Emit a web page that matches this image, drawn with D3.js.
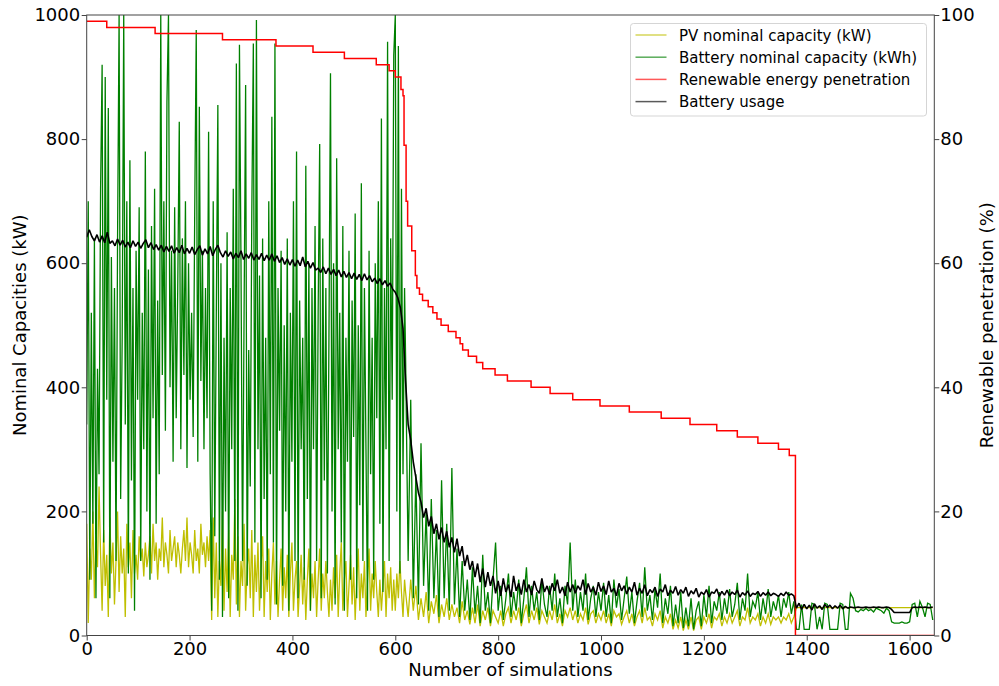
<!doctype html>
<html lang="en">
<head>
  <meta charset="utf-8">
  <script src="https://d3js.org/d3.v7.min.js"></script>
  <style>
    body { margin: 0; background: #fff; }
    svg text { font-family: "DejaVu Sans", sans-serif; fill: #000; }
  </style>
</head>
<body>
  <svg id="chart" width="999" height="686"></svg>
  <script>
    // capacities are read every 3 simulations up to 618, then every 5 from 620
    const earlyStep = 3;
    const lateStart = 620;
    const lateStep = 5;
    // battery usage is read every 5 simulations
    const useStep = 5;
    const simMax = 1648;

    const xTicks = [0, 200, 400, 600, 800, 1000, 1200, 1400, 1600];
    const leftTicks = [0, 200, 400, 600, 800, 1000];
    const rightTicks = [0, 20, 40, 60, 80, 100];

    // PV nominal capacity (kW), sims 0..618
    const pvCapEarly = [
      180, 20, 140, 90, 200, 60, 150, 110, 240, 130,
      40, 170, 80, 130, 30, 190, 100, 150, 50, 120,
      200, 70, 160, 100, 140, 30, 180, 110, 150, 60,
      170, 100, 130, 90, 160, 120, 140, 95, 150, 110,
      130, 160, 100, 180, 120, 150, 90, 140, 120, 190,
      110, 150, 130, 100, 170, 120, 140, 160, 110, 150,
      130, 100, 140, 170, 120, 190, 110, 150, 130, 100,
      170, 120, 140, 100, 180, 130, 150, 110, 160, 120,
      170, 25, 190, 60, 150, 30, 120, 80, 200, 40,
      140, 70, 170, 30, 130, 90, 220, 50, 160, 30,
      120, 80, 180, 40, 110, 140, 60, 170, 30, 130,
      70, 150, 40, 110, 160, 30, 120, 70, 140, 25,
      100, 150, 50, 120, 30, 90, 140, 40, 110, 60,
      130, 30, 100, 150, 40, 90, 120, 30, 80, 130,
      50, 110, 25, 90, 140, 40, 100, 60, 120, 30,
      90, 140, 40, 100, 60, 120, 70, 30, 90, 40,
      110, 60, 130, 30, 100, 150, 40, 90, 120, 30,
      80, 130, 50, 110, 25, 90, 140, 40, 100, 60,
      120, 30, 90, 140, 40, 100, 60, 120, 70, 30,
      90, 40, 80, 120, 30, 100, 60, 110, 40, 90,
      40, 100, 60, 120, 70, 30, 90
    ];
    // PV nominal capacity (kW), sims 620..1645
    const pvCapLate = [
      70, 30, 90, 40, 80, 25,
      60, 30, 70, 20, 55, 35, 65, 20, 50, 30,
      60, 25, 50, 30, 45, 20, 55, 25, 40, 18,
      45, 20, 50, 15, 40, 25, 45, 15, 40, 30,
      20, 40, 15, 35, 45, 20, 40, 25, 45, 15,
      35, 50, 20, 40, 25, 45, 18, 40, 30, 20,
      40, 25, 50, 20, 35, 15, 40, 30, 45, 25,
      40, 20, 35, 25, 45, 18, 35, 40, 20, 35,
      25, 40, 20, 35, 15, 40, 30, 35, 18, 30,
      40, 20, 35, 15, 30, 40, 20, 45, 25, 30,
      15, 35, 25, 40, 12, 30, 20, 35, 10, 25,
      12, 30, 8, 25, 10, 30, 8, 25, 30, 10,
      30, 20, 35, 12, 30, 25, 35, 15, 30, 20,
      35, 20, 30, 40, 15, 30, 25, 45, 20, 30,
      25, 35, 15, 30, 20, 35, 18, 30, 25, 30,
      20, 30, 25, 35, 20, 30, 45, 45, 45, 45,
      45, 45, 45, 45, 45, 45, 45, 45, 45, 45,
      45, 45, 45, 45, 45, 45, 45, 45, 45, 45,
      45, 45, 45, 45, 45, 45, 45, 45, 45, 45,
      45, 45, 45, 45, 45, 45, 45, 45, 45, 45,
      45, 45, 45, 45, 45, 45, 45, 45, 45, 45
    ];

    // Battery nominal capacity (kWh), sims 0..618
    const batCapEarly = [
      340, 700, 90, 520, 180, 640, 60, 430, 260, 720,
      920, 150, 900, 380, 850, 60, 610, 280, 560, 120,
      640, 1000, 220, 480, 1000, 340, 700, 100, 766, 250,
      560, 40, 620, 380, 690, 120, 520, 300, 780, 200,
      590, 90, 660, 350, 720, 180, 540, 260, 1000, 420,
      700, 330, 860, 1000, 400, 620, 280, 690, 350, 560,
      828, 300, 640, 420, 700, 270, 600, 380, 520, 320,
      680, 976, 280, 852, 410, 620, 300, 560, 350, 812,
      260, 40, 700, 160, 520, 855, 90, 600, 30, 480,
      200, 650, 60, 560, 300, 720, 120, 922, 40, 952,
      600, 120, 520, 887, 80, 460, 240, 680, 954, 150,
      992, 300, 580, 60, 640, 220, 480, 90, 700, 260,
      836, 150, 954, 50, 560, 330, 620, 80, 500, 200,
      640, 40, 520, 280, 700, 120, 780, 60, 540, 300,
      480, 90, 757, 220, 600, 40, 560, 300, 660, 120,
      520, 792, 60, 640, 250, 560, 100, 480, 906, 200,
      600, 50, 769, 300, 520, 150, 660, 40, 480, 280,
      620, 90, 540, 320, 680, 60, 500, 210, 729, 120,
      560, 300, 40, 620, 260, 480, 90, 600, 350, 700,
      180, 833, 70, 560, 300, 957, 120, 640, 380, 935,
      1000, 200, 950, 100, 720, 260, 560
    ];
    // Battery nominal capacity (kWh), sims 620..1645
    const batCapLate = [
      450, 120, 380, 60, 260, 50,
      310, 80, 200, 40, 220, 60, 170, 30, 250, 60,
      180, 40, 270, 50, 140, 30, 120, 40, 90, 25,
      110, 35, 80, 20, 130, 40, 70, 20, 90, 150,
      40, 80, 25, 60, 100, 30, 70, 40, 90, 20,
      60, 110, 30, 80, 40, 70, 25, 90, 50, 30,
      80, 40, 100, 30, 60, 20, 80, 50, 150, 40,
      90, 30, 70, 40, 100, 25, 60, 80, 30, 70,
      40, 85, 30, 65, 20, 90, 45, 75, 25, 60,
      95, 35, 70, 20, 55, 85, 30, 110, 40, 65,
      25, 75, 45, 100, 20, 60, 35, 80, 15, 50,
      20, 70, 12, 45, 15, 60, 10, 40, 55, 15,
      65, 30, 80, 20, 55, 40, 70, 25, 60, 35,
      75, 30, 50, 85, 25, 60, 40, 100, 30, 55,
      45, 70, 25, 60, 35, 75, 30, 55, 40, 65,
      30, 60, 45, 70, 35, 55, 10, 10, 50, 10,
      10, 10, 52, 50, 10, 30, 10, 52, 50, 10,
      10, 10, 10, 52, 50, 10, 10, 68, 60, 40,
      38, 42, 40, 44, 40, 42, 38, 44, 42, 40,
      36, 44, 40, 22, 20, 20, 20, 22, 20, 20,
      22, 50, 52, 30, 55, 45, 30, 52, 50, 25
    ];

    // Battery usage (%), sims 0..1645
    const batUse = [
      64.2, 65.4, 64.3, 63.6, 64.6, 63.4, 64.4, 63.3, 65.0, 63.2,
      63.6, 62.8, 63.9, 62.9, 63.7, 62.6, 63.4, 62.5, 63.6, 62.7,
      63.4, 62.4, 63.2, 63.8, 62.5, 63.3, 62.2, 63.0, 62.1, 62.9,
      61.8, 62.7, 61.9, 62.8, 61.6, 62.5, 61.7, 62.9, 61.5, 62.4,
      61.6, 62.6, 61.4, 62.2, 62.8, 61.3, 62.3, 61.5, 62.7, 61.2,
      62.2, 62.9, 61.7, 61.0, 62.0, 61.1, 61.8, 60.7, 61.6, 60.9,
      62.0, 60.6, 61.5, 60.8, 61.7, 60.5, 61.4, 60.6, 61.6, 60.4,
      61.3, 60.5, 61.5, 60.3, 61.2, 60.1, 60.9, 59.8, 60.7, 59.7,
      60.6, 59.5, 60.5, 59.6, 61.0, 59.4, 60.3, 59.2, 60.1, 58.9,
      59.2, 58.5, 59.4, 58.3, 59.2, 58.2, 59.0, 58.0, 58.9, 57.8,
      58.7, 57.7, 58.5, 57.5, 58.4, 57.4, 58.2, 57.2, 58.3, 57.3,
      58.0, 57.0, 57.6, 56.7, 57.5, 56.5, 57.2, 56.3, 56.8, 55.8,
      55.3, 54.4, 52.8, 49.5, 41.0, 34.0, 31.5, 28.0, 25.5, 23.0,
      21.5, 19.0, 20.5, 17.6, 19.2, 16.4, 18.0, 15.5, 17.4, 15.0,
      16.8, 14.2, 15.8, 13.4, 15.6, 12.8, 14.4, 11.2, 13.0, 10.6,
      12.0, 9.4, 11.6, 8.6, 10.8, 7.8, 10.2, 8.0, 9.6, 6.8,
      8.8, 6.4, 9.2, 7.0, 8.2, 6.2, 9.6, 7.2, 8.4, 6.6,
      9.0, 7.0, 8.2, 6.5, 8.8, 7.4, 6.8, 9.2, 7.0, 8.0,
      6.6, 8.4, 7.2, 9.0, 6.8, 7.8, 6.4, 8.6, 7.0, 8.2,
      6.8, 8.0, 7.3, 9.0, 6.6, 8.4, 7.0, 7.8, 6.5, 8.6,
      7.1, 8.0, 6.6, 8.8, 7.0, 7.6, 6.4, 8.4, 7.2, 8.0,
      6.7, 7.8, 7.0, 8.6, 6.5, 7.6, 6.8, 8.2, 6.4, 7.4,
      6.9, 7.8, 6.3, 7.5, 7.0, 8.2, 6.4, 7.3, 6.8, 7.9,
      6.5, 7.4, 6.8, 7.8, 6.3, 7.2, 6.7, 7.6, 6.2, 7.0,
      6.6, 7.4, 6.2, 7.0, 6.8, 7.5, 6.3, 7.1, 6.5, 7.3,
      6.4, 7.0, 6.6, 7.3, 6.2, 6.9, 6.5, 7.2, 6.3, 6.8,
      6.6, 7.1, 6.3, 6.9, 6.5, 7.0, 6.4, 6.8, 6.6, 6.3,
      6.8, 6.4, 7.0, 6.5, 6.7, 6.4, 4.4, 5.2, 4.2, 5.0,
      4.3, 4.9, 4.1, 5.1, 4.4, 4.8, 4.2, 5.0, 4.5, 4.9,
      4.3, 4.8, 4.4, 4.9, 4.3, 4.7, 4.4, 4.6, 4.5, 4.5,
      4.6, 4.5, 4.5, 4.6, 4.5, 4.5, 4.6, 4.5, 4.6, 4.5,
      4.5, 4.6, 4.5, 4.2, 3.7, 3.7, 3.7, 3.7, 3.7, 3.7,
      3.7, 4.5, 4.6, 4.5, 4.6, 4.5, 4.6, 4.5, 4.5, 4.6
    ];

    // Renewable energy penetration (%): simulation where each level starts
    const penSim = [0, 39, 133, 264, 368, 440, 501, 563, 588, 600,
      611, 615, 617, 621, 624, 632, 639, 642, 647, 653,
      664, 673, 681, 689, 703, 718, 726, 731, 742, 758,
      770, 794, 818, 864, 901, 945, 998, 1055, 1117, 1173,
      1225, 1265, 1305, 1345, 1366, 1378, 1648];
    const penVal = [99, 98, 97, 96, 95, 94, 93, 92, 91, 90,
      88, 87, 79, 70, 66, 62, 58, 56, 55, 54,
      53, 52, 51, 50, 49, 48, 47, 46, 45, 44,
      43, 42, 41, 40, 39, 38, 37, 36, 35, 34,
      33, 32, 31, 30, 29, 0, 0];

    const seriesNames = ["PV nominal capacity (kW)", "Battery nominal capacity (kWh)",
      "Renewable energy penetration", "Battery usage"];
    const seriesColors = ["#bfbf00", "#008000", "#ff0000", "#000000"];

    const width = 999, height = 686;
    const margin = {top: 15, right: 64.7, bottom: 50.5, left: 86.7};

    const svg = d3.select("#chart");

    const x = d3.scaleLinear().domain([0, simMax])
      .range([margin.left, width - margin.right]);
    const yL = d3.scaleLinear().domain([0, 1000])
      .range([height - margin.bottom, margin.top]);
    const yR = d3.scaleLinear().domain([0, 100])
      .range([height - margin.bottom, margin.top]);

    svg.append("clipPath").attr("id", "plotclip")
      .append("rect")
      .attr("x", margin.left).attr("y", margin.top)
      .attr("width", width - margin.left - margin.right)
      .attr("height", height - margin.top - margin.bottom);

    const plot = svg.append("g").attr("clip-path", "url(#plotclip)");

    function joinParts(early, late) {
      return early.map((v, i) => [i * earlyStep, v])
        .concat(late.map((v, i) => [lateStart + i * lateStep, v]));
    }
    const pvData = joinParts(pvCapEarly, pvCapLate);
    const batData = joinParts(batCapEarly, batCapLate);
    const useData = batUse.map((v, i) => [i * useStep, v]);
    const penData = penSim.map((s, i) => [s, penVal[i]]);

    const lineL = d3.line().x(d => x(d[0])).y(d => yL(d[1]));
    const lineR = d3.line().x(d => x(d[0])).y(d => yR(d[1]));

    plot.append("path").datum(pvData)
      .attr("d", lineL).attr("fill", "none")
      .attr("stroke", seriesColors[0]).attr("stroke-width", 1.3);

    plot.append("path").datum(batData)
      .attr("d", lineL).attr("fill", "none")
      .attr("stroke", seriesColors[1]).attr("stroke-width", 1.3);

    plot.append("path").datum(penData)
      .attr("d", d3.line().curve(d3.curveStepAfter).x(d => x(d[0])).y(d => yR(d[1])))
      .attr("fill", "none")
      .attr("stroke", seriesColors[2]).attr("stroke-width", 1.5);

    plot.append("path").datum(useData)
      .attr("d", lineR).attr("fill", "none")
      .attr("stroke", seriesColors[3]).attr("stroke-width", 1.6)
      .attr("stroke-linejoin", "bevel");

    // axes
    const fmt = d3.format("d");
    const gx = svg.append("g")
      .attr("transform", `translate(0,${height - margin.bottom})`)
      .call(d3.axisBottom(x).tickValues(xTicks).tickFormat(fmt)
        .tickSize(5).tickPadding(2).tickSizeOuter(0));
    const gl = svg.append("g")
      .attr("transform", `translate(${margin.left},0)`)
      .call(d3.axisLeft(yL).tickValues(leftTicks).tickFormat(fmt)
        .tickSize(5).tickPadding(1.5).tickSizeOuter(0));
    const gr = svg.append("g")
      .attr("transform", `translate(${width - margin.right},0)`)
      .call(d3.axisRight(yR).tickValues(rightTicks).tickFormat(fmt)
        .tickSize(5).tickPadding(1).tickSizeOuter(0));

    [gx, gl, gr].forEach(g => {
      g.select(".domain").remove();
      g.selectAll(".tick line").attr("stroke", "#444");
      g.selectAll(".tick text").attr("font-size", 18)
        .attr("font-family", "DejaVu Sans").attr("fill", "#000");
    });

    // frame
    svg.append("rect")
      .attr("x", margin.left).attr("y", margin.top)
      .attr("width", width - margin.left - margin.right)
      .attr("height", height - margin.top - margin.bottom)
      .attr("fill", "none").attr("stroke", "#444").attr("stroke-width", 1);

    // axis labels
    svg.append("text")
      .attr("x", (margin.left + width - margin.right) / 2).attr("y", 676)
      .attr("text-anchor", "middle").attr("font-size", 18)
      .text("Number of simulations");

    const midY = (margin.top + height - margin.bottom) / 2;
    svg.append("text")
      .attr("transform", `translate(26,${midY}) rotate(-90)`)
      .attr("text-anchor", "middle").attr("font-size", 18)
      .text("Nominal Capacities (kW)");
    svg.append("text")
      .attr("transform", `translate(993,${midY}) rotate(-90)`)
      .attr("text-anchor", "middle").attr("font-size", 18)
      .text("Renewable penetration (%)");

    // legend
    const legend = svg.append("g").attr("transform", "translate(630.5,23.5)");
    legend.append("rect")
      .attr("width", 296).attr("height", 92.5).attr("rx", 3)
      .attr("fill", "#fff").attr("fill-opacity", 0.8)
      .attr("stroke", "#d5d5d5").attr("stroke-width", 1);
    seriesNames.forEach((name, i) => {
      const yy = 11.5 + i * 22.2;
      legend.append("line")
        .attr("x1", 5).attr("x2", 36).attr("y1", yy).attr("y2", yy)
        .attr("stroke", seriesColors[i]).attr("stroke-width", 1.5)
        .attr("stroke-opacity", 0.65);
      legend.append("text")
        .attr("x", 48.5).attr("y", yy + 5.5)
        .attr("font-size", 15)
        .text(name);
    });
  </script>
</body>
</html>
